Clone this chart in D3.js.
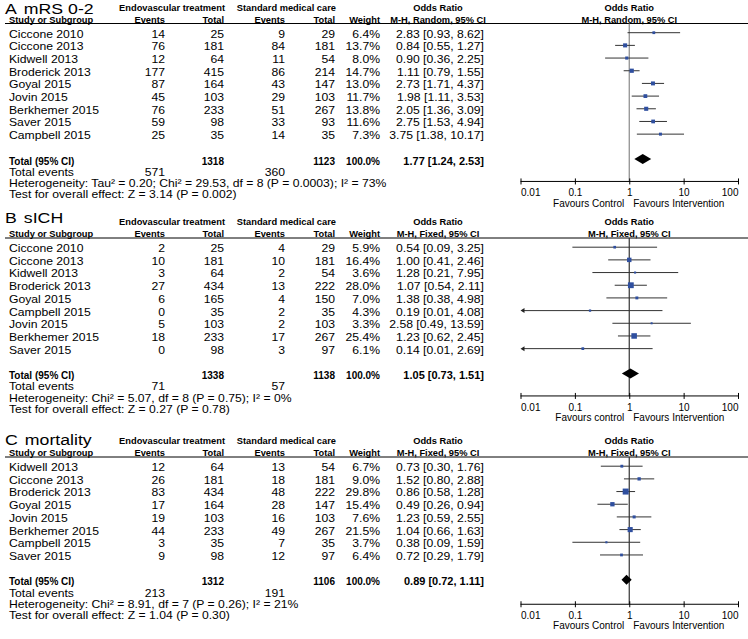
<!DOCTYPE html>
<html><head><meta charset="utf-8">
<script src="https://cdn.jsdelivr.net/npm/d3@7/dist/d3.min.js"></script>
<style>html,body{margin:0;padding:0;background:#fff;}svg{display:block;}</style>
</head><body>
<svg id="chart" width="748" height="639"></svg>
<script>
// ---------- DATA ----------
const axisTicks = [0.01, 0.1, 1, 10, 100];
const axisTickLabels = ["0.01", "0.1", "1", "10", "100"];

// Panel A: mRS 0-2
const studiesA = ["Ciccone 2010","Ciccone 2013","Kidwell 2013","Broderick 2013","Goyal 2015","Jovin 2015","Berkhemer 2015","Saver 2015","Campbell 2015"];
const endoEventsA = [14,76,12,177,87,45,76,59,25];
const endoTotalA  = [25,181,64,415,164,103,233,98,35];
const ctrlEventsA = [9,84,11,86,43,29,51,33,14];
const ctrlTotalA  = [29,181,54,214,147,103,267,93,35];
const weightA = [6.4,13.7,8.0,14.7,13.0,11.7,13.8,11.6,7.3];
const orA = [2.83,0.84,0.90,1.11,2.73,1.98,2.05,2.75,3.75];
const loA = [0.93,0.55,0.36,0.79,1.71,1.11,1.36,1.53,1.38];
const hiA = [8.62,1.27,2.25,1.55,4.37,3.53,3.09,4.94,10.17];
const summaryA = [1318, 1123, 571, 360, 1.77, 1.24, 2.53]; // endoTotal, ctrlTotal, endoEvents, ctrlEvents, OR, lo, hi
const notesA = ["Heterogeneity: Tau² = 0.20; Chi² = 29.53, df = 8 (P = 0.0003); I² = 73%", "Test for overall effect: Z = 3.14 (P = 0.002)"];

// Panel B: sICH
const studiesB = ["Ciccone 2010","Ciccone 2013","Kidwell 2013","Broderick 2013","Goyal 2015","Campbell 2015","Jovin 2015","Berkhemer 2015","Saver 2015"];
const endoEventsB = [2,10,3,27,6,0,5,18,0];
const endoTotalB  = [25,181,64,434,165,35,103,233,98];
const ctrlEventsB = [4,10,2,13,4,2,2,17,3];
const ctrlTotalB  = [29,181,54,222,150,35,103,267,97];
const weightB = [5.9,16.4,3.6,28.0,7.0,4.3,3.3,25.4,6.1];
const orB = [0.54,1.00,1.28,1.07,1.38,0.19,2.58,1.23,0.14];
const loB = [0.09,0.41,0.21,0.54,0.38,0.01,0.49,0.62,0.01];
const hiB = [3.25,2.46,7.95,2.11,4.98,4.08,13.59,2.45,2.69];
const summaryB = [1338, 1138, 71, 57, 1.05, 0.73, 1.51];
const notesB = ["Heterogeneity: Chi² = 5.07, df = 8 (P = 0.75); I² = 0%", "Test for overall effect: Z = 0.27 (P = 0.78)"];

// Panel C: mortality
const studiesC = ["Kidwell 2013","Ciccone 2013","Broderick 2013","Goyal 2015","Jovin 2015","Berkhemer 2015","Campbell 2015","Saver 2015"];
const endoEventsC = [12,26,83,17,19,44,3,9];
const endoTotalC  = [64,181,434,164,103,233,35,98];
const ctrlEventsC = [13,18,48,28,16,49,7,12];
const ctrlTotalC  = [54,181,222,147,103,267,35,97];
const weightC = [6.7,9.0,29.8,15.4,7.6,21.5,3.7,6.4];
const orC = [0.73,1.52,0.86,0.49,1.23,1.04,0.38,0.72];
const loC = [0.30,0.80,0.58,0.26,0.59,0.66,0.09,0.29];
const hiC = [1.76,2.88,1.28,0.94,2.55,1.63,1.59,1.79];
const summaryC = [1312, 1106, 213, 191, 0.89, 0.72, 1.11];
const notesC = ["Heterogeneity: Chi² = 8.91, df = 7 (P = 0.26); I² = 21%", "Test for overall effect: Z = 1.04 (P = 0.30)"];

// ---------- LAYOUT ----------
const panels = [
  {letter:"A", title:"mRS 0-2", method:"M-H, Random, 95% CI", oy:0, titleY:14, axisShift:0, favL:"Favours Control",
   studies:studiesA, ee:endoEventsA, et:endoTotalA, ce:ctrlEventsA, ct:ctrlTotalA, w:weightA, or:orA, lo:loA, hi:hiA, sum:summaryA, notes:notesA},
  {letter:"B", title:"sICH", method:"M-H, Fixed, 95% CI", oy:214.5, titleY:8, axisShift:0, favL:"Favours control",
   studies:studiesB, ee:endoEventsB, et:endoTotalB, ce:ctrlEventsB, ct:ctrlTotalB, w:weightB, or:orB, lo:loB, hi:hiB, sum:summaryB, notes:notesB},
  {letter:"C", title:"mortality", method:"M-H, Fixed, 95% CI", oy:433.5, titleY:11.5, axisShift:2, favL:"Favours Control",
   studies:studiesC, ee:endoEventsC, et:endoTotalC, ce:ctrlEventsC, ct:ctrlTotalC, w:weightC, or:orC, lo:loC, hi:hiC, sum:summaryC, notes:notesC}
];

const FONT = "'Liberation Sans', Arial, Helvetica, sans-serif";
const svg = d3.select("#chart").style("font-family", FONT).style("font-size", "10px");

const x = d3.scaleLog().domain([0.01, 100]).range([520.5, 738]);
const col = {study:9, ee:165, et:224, ce:285, ct:335, w:380, orR:484, orC:438};
const step = 12.68;
const f2 = d3.format(".2f");
const fw = d3.format(".1f");
const HEAD = 9.3;

// table text: regular is slightly wider in the reference
function txt(g, xx, yy, s, anchor, bold, size, sx) {
  const scaleX = sx !== undefined ? sx : (bold ? 1 : 1.16);
  return g.append("text")
    .attr("transform", `translate(${xx},${yy + 3.6}) scale(${scaleX},1)`)
    .attr("text-anchor", anchor || "start")
    .attr("font-weight", bold ? "bold" : "normal")
    .attr("font-size", size || (bold ? 10 : 10.5))
    .attr("fill", "#000").text(s);
}

panels.forEach(p => {
  const g = svg.append("g").attr("transform", `translate(0,${p.oy})`);
  // title
  const t = g.append("text").attr("transform", `translate(5,${p.titleY}) scale(1.18,1)`)
    .attr("font-size", 15).attr("fill", "#000");
  t.append("tspan").text(p.letter);
  t.append("tspan").attr("dx", 6).text(p.title);

  const hy1 = 7, hy2 = 19, lineY = 23.5;
  txt(g, col.et + 1, hy1, "Endovascular treatment", "end", true, HEAD);
  txt(g, col.ct + 1, hy1, "Standard medical care", "end", true, HEAD);
  txt(g, col.orC, hy1, "Odds Ratio", "middle", true, HEAD);
  txt(g, x(1), hy1, "Odds Ratio", "middle", true, HEAD);
  txt(g, col.study, hy2, "Study or Subgroup", "start", true, HEAD);
  txt(g, col.ee, hy2, "Events", "end", true, HEAD);
  txt(g, col.et, hy2, "Total", "end", true, HEAD);
  txt(g, col.ce, hy2, "Events", "end", true, HEAD);
  txt(g, col.ct, hy2, "Total", "end", true, HEAD);
  txt(g, col.w, hy2, "Weight", "end", true, HEAD);
  txt(g, col.orC, hy2, p.method, "middle", true, HEAD);
  txt(g, x(1), hy2, p.method, "middle", true, HEAD);
  g.append("line").attr("x1", 5).attr("x2", 748).attr("y1", lineY).attr("y2", lineY)
    .attr("stroke", "#000").attr("stroke-width", 1);

  const rowY = i => 34 + i * step;
  const n = p.studies.length;
  const totY = rowY(n - 1) + 25.5;
  const axisY = totY + 20.5 + p.axisShift;

  // vertical line at OR = 1
  g.append("line").attr("x1", x(1)).attr("x2", x(1)).attr("y1", lineY).attr("y2", axisY)
    .attr("stroke", p.letter === "A" ? "#888" : "#333").attr("stroke-width", 1.2);

  p.studies.forEach((s, i) => {
    const y = rowY(i);
    txt(g, col.study, y, s);
    txt(g, col.ee, y, p.ee[i], "end");
    txt(g, col.et, y, p.et[i], "end");
    txt(g, col.ce, y, p.ce[i], "end");
    txt(g, col.ct, y, p.ct[i], "end");
    txt(g, col.w, y, fw(p.w[i]) + "%", "end");
    txt(g, col.orR, y, `${f2(p.or[i])} [${f2(p.lo[i])}, ${f2(p.hi[i])}]`, "end");

    const my = y - 1.3;
    const lo = Math.max(p.lo[i], 0.01);
    const arrow = p.lo[i] <= 0.01;
    g.append("line").attr("x1", x(lo) + (arrow ? 2 : 0)).attr("x2", x(Math.min(p.hi[i], 100)))
      .attr("y1", my).attr("y2", my).attr("stroke", "#333").attr("stroke-width", 1);
    if (arrow) {
      const ax = x(0.01);
      g.append("path").attr("d", `M${ax},${my} L${ax + 4},${my - 2.5} L${ax + 4},${my + 2.5} Z`).attr("fill", "#222");
    }
    const side = Math.max(2, 1.1 * Math.sqrt(p.w[i]));
    g.append("rect").attr("x", x(p.or[i]) - side / 2).attr("y", my - side / 2)
      .attr("width", side).attr("height", side).attr("fill", "#2f4f9f");
  });

  // totals
  txt(g, col.study, totY, "Total (95% CI)", "start", true);
  txt(g, col.et, totY, p.sum[0], "end", true);
  txt(g, col.ct, totY, p.sum[1], "end", true);
  txt(g, col.w, totY, "100.0%", "end", true);
  txt(g, col.orR, totY, `${f2(p.sum[4])} [${f2(p.sum[5])}, ${f2(p.sum[6])}]`, "end", true, 10, 1.1);
  const dy = totY - 2, dh = 5;
  g.append("path")
    .attr("d", `M${x(p.sum[5])},${dy} L${x(p.sum[4])},${dy - dh} L${x(p.sum[6])},${dy} L${x(p.sum[4])},${dy + dh} Z`)
    .attr("fill", "#000");

  txt(g, col.study, totY + 11.3, "Total events");
  txt(g, col.ee, totY + 11.3, p.sum[2], "end");
  txt(g, col.ce, totY + 11.3, p.sum[3], "end");
  txt(g, col.study, totY + 22.6, p.notes[0]);
  txt(g, col.study, totY + 33.9, p.notes[1]);

  // axis
  const ax = g.append("g").attr("transform", `translate(0,${axisY})`)
    .call(d3.axisBottom(x).tickValues(axisTicks).tickSize(3).tickFormat((d, i) => axisTickLabels[i]));
  ax.select(".domain").remove();
  ax.selectAll(".tick line").attr("y1", -3).attr("y2", 3).attr("stroke", "#000");
  ax.selectAll(".tick text").attr("y", 7.5).attr("font-size", 10)
    .attr("font-family", FONT).attr("fill", "#000");
  ax.selectAll(".tick text").filter((d, i) => i === 0).attr("text-anchor", "start");
  ax.selectAll(".tick text").filter((d, i) => i === axisTicks.length - 1).attr("text-anchor", "end");
  ax.append("line").attr("x1", x(0.01)).attr("x2", x(100)).attr("y1", 0).attr("y2", 0).attr("stroke", "#000");
  txt(g, x(1) - 5, axisY + 21.5, p.favL, "end", false, 10, 1);
  txt(g, x(1) + 4, axisY + 21.5, "Favours Intervention", "start", false, 10, 1);
});
</script>
</body></html>
